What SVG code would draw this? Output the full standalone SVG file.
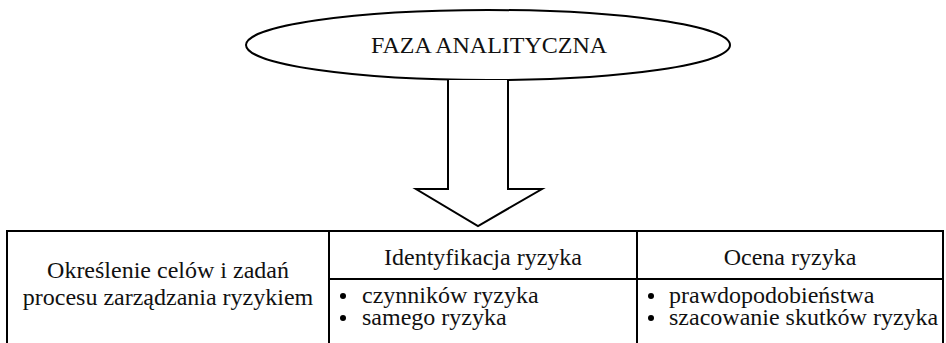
<svg xmlns="http://www.w3.org/2000/svg" width="946" height="343" viewBox="0 0 946 343">
<style>
  .ln { fill: none; stroke: #000; stroke-width: 2; }
  .sh { fill: #fff; stroke: #000; stroke-width: 2; }
  .t { font-family: 'Liberation Serif', 'Times New Roman', Times, serif; font-size: 24px; fill: #111; }
  .c { text-anchor: middle; }
</style>
<rect width="946" height="343" fill="#fff"/>
<g id="faza">
  <ellipse class="sh" cx="488" cy="45" rx="242" ry="35"/>
  <text class="t c" x="489" y="53">FAZA ANALITYCZNA</text>
</g>
<g id="connectors">
  <path class="sh" d="M448,80 L448,189 L416,189 L478,226 L542,189 L508,189 L508,80"/>
</g>
<g id="table">
  <rect class="ln" x="7" y="231" width="936" height="120"/>
  <line class="ln" x1="329" y1="231" x2="329" y2="343"/>
  <line class="ln" x1="637" y1="231" x2="637" y2="343"/>
  <line class="ln" x1="329" y1="279" x2="943" y2="279"/>
</g>
<g id="cele">
  <text class="t c" x="168" y="278">Określenie celów i zadań</text>
  <text class="t c" x="168" y="305">procesu zarządzania ryzykiem</text>
</g>
<g id="identyfikacja">
  <text class="t c" x="483" y="265">Identyfikacja ryzyka</text>
  <circle cx="343" cy="296" r="3"/>
  <text class="t" x="362" y="303">czynników ryzyka</text>
  <circle cx="343" cy="318" r="3"/>
  <text class="t" x="362" y="325">samego ryzyka</text>
</g>
<g id="ocena">
  <text class="t c" x="790" y="265">Ocena ryzyka</text>
  <circle cx="651" cy="296" r="3"/>
  <text class="t" x="669" y="303">prawdopodobieństwa</text>
  <circle cx="651" cy="318" r="3"/>
  <text class="t" x="669" y="325">szacowanie skutków ryzyka</text>
</g>
</svg>
